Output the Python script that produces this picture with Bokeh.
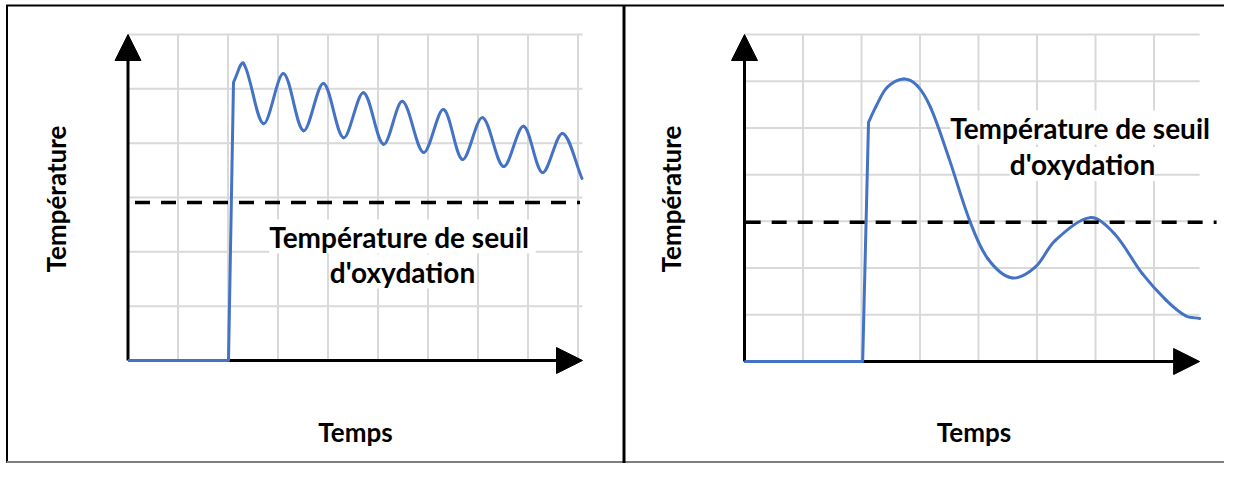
import math
from bokeh.plotting import figure
from bokeh.models import Range1d, Arrow, NormalHead
from bokeh.core.properties import value
from bokeh.embed import file_html
from bokeh.resources import INLINE

# ------------------------------------------------------------------ data
X_LABEL = "Temps"
Y_LABEL = "Température"
THRESHOLD_TEXT = ["Température de  seuil", "d'oxydation"]

# left panel (grid units)
LEFT_GRID_X = [1, 2, 3, 4, 5, 6, 7, 8, 9]
LEFT_GRID_Y = [1, 2, 3, 4, 5, 6]
LEFT_X_END = 9.09
LEFT_STEP_X = [0.0, 2.01, 2.11]
LEFT_STEP_Y = [0.0, 0.0, 5.12]
LEFT_WAVE_X = [2.11, 2.31, 2.71, 3.11, 3.51, 3.91, 4.31, 4.71, 5.11, 5.49,
               5.91, 6.31, 6.69, 7.09, 7.51, 7.91, 8.29, 8.69, 9.08]
LEFT_WAVE_Y = [5.12, 5.47, 4.36, 5.28, 4.23, 5.10, 4.10, 4.93, 3.98, 4.77,
               3.83, 4.62, 3.70, 4.47, 3.57, 4.31, 3.46, 4.18, 3.35]
LEFT_THRESHOLD = 2.91
LEFT_THRESHOLD_X = [0.14, 9.04]

# right panel (grid units)
RIGHT_GRID_X = [1, 2, 3, 4, 5, 6, 7]
RIGHT_GRID_Y = [1, 2, 3, 4, 5, 6, 7]
RIGHT_X_END = 7.78
RIGHT_STEP_X = [0.0, 2.02, 2.12]
RIGHT_STEP_Y = [0.0, 0.0, 5.12]
RIGHT_CURVE_X = [2.12, 2.24, 2.44, 2.72, 2.95, 3.18, 3.49, 3.86, 4.16, 4.57,
                 4.97, 5.31, 5.91, 6.32, 6.80, 7.21, 7.54, 7.78]
RIGHT_CURVE_Y = [5.12, 5.44, 5.87, 6.05, 5.91, 5.44, 4.37, 2.98, 2.20, 1.79,
                 2.02, 2.59, 3.08, 2.74, 1.88, 1.31, 0.98, 0.92]
RIGHT_THRESHOLD = 2.98
RIGHT_THRESHOLD_X = [0.02, 8.07]

# ------------------------------------------------------------------ layout / style
FIG_W, FIG_H, OFF = 1224, 463, 0
BLUE = "#4472C4"
GRID = "#D9D9D9"
FONT = value("Lato")
THR_SIZE = "28px"
LAB_SIZE = "26px"

# pixel geometry of each panel: origin (px), cell size (px)
L_OX, L_OY, L_CW, L_CH = 127.5, 360.0, 50.0, 54.33
R_OX, R_OY, R_CW, R_CH = 744.0, 361.0, 58.5, 46.71


def lx(px):
    return (px - L_OX) / L_CW


def ly(py):
    return (L_OY - py) / L_CH


def rx(px):
    return (px - R_OX) / R_CW


def ry(py):
    return (R_OY - py) / R_CH


p = figure(width=FIG_W, height=FIG_H, output_backend="svg", toolbar_location=None,
           x_axis_location=None, y_axis_location=None,
           x_range=Range1d(lx(OFF), lx(OFF + FIG_W)),
           y_range=Range1d(ly(OFF + FIG_H), ly(OFF)),
           min_border=0, outline_line_color=None, background_fill_color="white")
p.grid.visible = False
p.extra_x_ranges = {"rx": Range1d(rx(OFF), rx(OFF + FIG_W))}
p.extra_y_ranges = {"ry": Range1d(ry(OFF + FIG_H), ry(OFF))}

# frame borders (top, left, bottom, divider)
p.segment(x0=[lx(5.5), lx(6.5)], y0=[ly(5), ly(5)],
          x1=[lx(OFF + FIG_W), lx(6.5)], y1=[ly(5), ly(OFF + FIG_H)],
          line_color="black", line_width=2)
p.segment(x0=[lx(6)], y0=[ly(OFF + FIG_H - 1.5)], x1=[lx(OFF + FIG_W)], y1=[ly(OFF + FIG_H - 1.5)],
          line_color="#7F7F7F", line_width=2)
p.segment(x0=[lx(623.5)], y0=[ly(5)], x1=[lx(623.5)], y1=[ly(OFF + FIG_H)],
          line_color="black", line_width=3)


def smooth(xs, ys, sx, sy, **rng):
    """Smooth curve through the read points (chord-weighted Hermite drawn as Bezier segments).
    sx, sy: pixel size of one grid unit, used only to measure chord lengths on screen."""
    n = len(xs)

    def dist(i, j):
        return math.hypot((xs[j] - xs[i]) * sx, (ys[j] - ys[i]) * sy)

    seg = dict(x0=[], y0=[], x1=[], y1=[], cx0=[], cy0=[], cx1=[], cy1=[])
    for i in range(n - 1):
        a = i - 1 if i > 0 else i
        b = i + 2 if i + 2 < n else i + 1
        d12 = dist(i, i + 1)
        d01 = dist(a, i)
        d23 = dist(i + 1, b)
        k1 = d12 / (d01 + d12)
        k2 = d12 / (d12 + d23)
        seg["x0"].append(xs[i]); seg["y0"].append(ys[i])
        seg["x1"].append(xs[i + 1]); seg["y1"].append(ys[i + 1])
        seg["cx0"].append(xs[i] + (xs[i + 1] - xs[a]) * k1 / 3)
        seg["cy0"].append(ys[i] + (ys[i + 1] - ys[a]) * k1 / 3)
        seg["cx1"].append(xs[i + 1] - (xs[b] - xs[i]) * k2 / 3)
        seg["cy1"].append(ys[i + 1] - (ys[b] - ys[i]) * k2 / 3)
    p.bezier(line_color=BLUE, line_width=3, line_cap="round", **seg, **rng)


def panel(gx, gy, x_end, step_x, step_y, cx, cy, thr, thr_x, txt_pos, lab_pos, sx, sy, **rng):
    ytop = gy[-1]
    p.segment(x0=gx, y0=[0] * len(gx), x1=gx, y1=[ytop] * len(gx),
              line_color=GRID, line_width=2, **rng)
    p.segment(x0=[0] * len(gy), y0=gy, x1=[x_end] * len(gy), y1=gy,
              line_color=GRID, line_width=2, **rng)
    # axes shafts
    p.segment(x0=[0, 0], y0=[0, 0], x1=[x_end - 0.2, 0], y1=[0, ytop - 0.2],
              line_color="black", line_width=3, **rng)
    # curve
    p.line(step_x, step_y, line_color=BLUE, line_width=3, line_join="round", **rng)
    smooth(cx, cy, sx, sy, **rng)
    # threshold
    p.line(thr_x, [thr, thr], line_color="black", line_width=3.5, line_dash="15 11", **rng)
    # arrow heads
    for xs, ys, xe, ye in [(x_end - 0.5, 0, x_end, 0), (0, ytop - 0.5, 0, ytop)]:
        a = Arrow(x_start=xs, y_start=ys, x_end=xe, y_end=ye, line_alpha=0,
                  end=NormalHead(size=26, fill_color="black", line_color="black", line_width=1),
                  **rng)
        p.add_layout(a)
    # threshold text
    p.text(x=[t[0] for t in txt_pos], y=[t[1] for t in txt_pos], text=THRESHOLD_TEXT,
           text_font=FONT, text_font_style="bold", text_font_size=THR_SIZE,
           text_align="center", text_baseline="alphabetic", text_color="black",
           background_fill_color="white", **rng)
    # axis labels
    p.text(x=[lab_pos[0][0]], y=[lab_pos[0][1]], text=[X_LABEL],
           text_font=FONT, text_font_style="bold", text_font_size=LAB_SIZE,
           text_align="center", text_baseline="alphabetic", text_color="black", **rng)
    p.text(x=[lab_pos[1][0]], y=[lab_pos[1][1]], text=[Y_LABEL], angle=math.pi / 2,
           text_font=FONT, text_font_style="bold", text_font_size=LAB_SIZE,
           text_align="center", text_baseline="alphabetic", text_color="black", **rng)


panel(LEFT_GRID_X, LEFT_GRID_Y, LEFT_X_END, LEFT_STEP_X, LEFT_STEP_Y,
      LEFT_WAVE_X, LEFT_WAVE_Y, LEFT_THRESHOLD, LEFT_THRESHOLD_X,
      [(lx(402), ly(236)), (lx(402), ly(271))],
      [(lx(355), ly(431)), (lx(55), ly(198.5))], L_CW, L_CH)

panel(RIGHT_GRID_X, RIGHT_GRID_Y, RIGHT_X_END, RIGHT_STEP_X, RIGHT_STEP_Y,
      RIGHT_CURVE_X, RIGHT_CURVE_Y, RIGHT_THRESHOLD, RIGHT_THRESHOLD_X,
      [(rx(1083), ry(127)), (rx(1082), ry(163.5))],
      [(rx(973.5), ry(431)), (rx(670), ry(198.5))], R_CW, R_CH,
      x_range_name="rx", y_range_name="ry")

open("out.html", "w").write(file_html(p, INLINE))
